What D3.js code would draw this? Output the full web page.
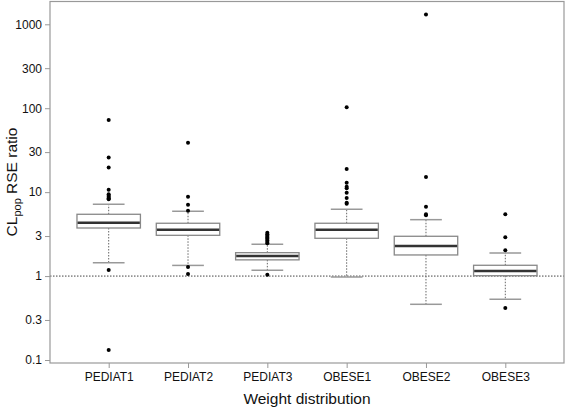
<!DOCTYPE html>
<html><head><meta charset="utf-8">
<script src="https://cdn.jsdelivr.net/npm/d3@7"></script>
<style>body{margin:0;background:#fff}svg{display:block}text{font-family:"Liberation Sans",Arial,sans-serif;fill:#111}</style>
</head><body>
<script>
const categories = ["PEDIAT1","PEDIAT2","PEDIAT3","OBESE1","OBESE2","OBESE3"];
const whiskerLow  = [1.44, 1.34, 1.17, 0.975, 0.461, 0.529];
const q1          = [3.74, 3.06, 1.56, 2.82, 1.785, 1.01];
const medians     = [4.33, 3.57, 1.74, 3.57, 2.28, 1.15];
const q3          = [5.45, 4.26, 1.90, 4.26, 2.98, 1.345];
const whiskerHigh = [7.17, 5.92, 2.39, 6.26, 4.70, 1.885];
const outliers = [
  [72.6, 25.8, 19.6, 10.7, 9.44, 9.08, 8.77, 8.46, 8.23, 1.18, 0.132],
  [38.9, 8.84, 7.10, 6.02, 1.28, 1.06],
  [3.29, 3.15, 3.02, 2.93, 2.85, 2.76, 2.66, 2.55, 2.46, 1.04],
  [102.8, 18.9, 12.98, 11.63, 11.13, 9.86, 8.53, 7.50, 7.29],
  [1305, 15.2, 6.72, 5.45, 5.30],
  [5.45, 2.90, 2.03, 0.417]
];
const yTicks = [0.1, 0.3, 1, 3, 10, 30, 100, 300, 1000];
const refValue = 1;

const W = 567, H = 408;
const L = 50, R = 564, T = 1.5, B = 363;
const svg = d3.select("body").append("svg").attr("width", W).attr("height", H);

const x = d3.scalePoint().domain(categories).range([L, R]).padding(0.74);
const y = d3.scaleLog().domain([0.1, 1000]).range([360, 24.3]);
const step = x.step();
const boxW = step * 0.8, capW = boxW / 2;

// reference line
svg.append("line").attr("x1", L).attr("x2", R).attr("y1", y(refValue)).attr("y2", y(refValue))
  .attr("stroke", "#444").attr("stroke-width", 1).attr("stroke-dasharray", "1.5,1.5");

const data = categories.map((c, i) => ({c, lo: whiskerLow[i], q1: q1[i], med: medians[i], q3: q3[i], hi: whiskerHigh[i], out: outliers[i]}));
const g = svg.append("g").selectAll("g").data(data).join("g");

// whiskers
g.append("line").attr("x1", d => x(d.c)).attr("x2", d => x(d.c)).attr("y1", d => y(d.q3)).attr("y2", d => y(d.hi))
  .attr("stroke", "#666").attr("stroke-dasharray", "1.5,1.5");
g.append("line").attr("x1", d => x(d.c)).attr("x2", d => x(d.c)).attr("y1", d => y(d.q1)).attr("y2", d => y(d.lo))
  .attr("stroke", "#666").attr("stroke-dasharray", "1.5,1.5");
// caps
g.append("line").attr("x1", d => x(d.c) - capW / 2).attr("x2", d => x(d.c) + capW / 2).attr("y1", d => y(d.hi)).attr("y2", d => y(d.hi))
  .attr("stroke", "#999").attr("stroke-width", 1.5);
g.append("line").attr("x1", d => x(d.c) - capW / 2).attr("x2", d => x(d.c) + capW / 2).attr("y1", d => y(d.lo)).attr("y2", d => y(d.lo))
  .attr("stroke", "#999").attr("stroke-width", 1.5);
// box
g.append("rect").attr("x", d => x(d.c) - boxW / 2).attr("width", boxW)
  .attr("y", d => y(d.q3)).attr("height", d => y(d.q1) - y(d.q3))
  .attr("fill", "#fff").attr("stroke", "#888").attr("stroke-width", 1.3);
// median
g.append("line").attr("x1", d => x(d.c) - boxW / 2 + 0.6).attr("x2", d => x(d.c) + boxW / 2 - 0.6).attr("y1", d => y(d.med)).attr("y2", d => y(d.med))
  .attr("stroke", "#333").attr("stroke-width", 2.5);
// outliers
g.selectAll("circle").data(d => d.out.map(v => ({c: d.c, v}))).join("circle")
  .attr("cx", d => x(d.c)).attr("cy", d => y(d.v)).attr("r", 2).attr("fill", "#000");

// frame
svg.append("rect").attr("x", L).attr("y", T).attr("width", R - L).attr("height", B - T)
  .attr("fill", "none").attr("stroke", "#999").attr("stroke-width", 1.2);

// y axis
const yAxis = svg.append("g").attr("transform", `translate(${L},0)`)
  .call(d3.axisLeft(y).tickValues(yTicks).tickFormat(d3.format("~g")).tickSize(5).tickPadding(3));
yAxis.select(".domain").remove();
yAxis.selectAll("line").attr("stroke", "#999");
yAxis.selectAll("text").style("font-size", "12px").attr("fill", "#111");

// x axis
const xAxis = svg.append("g").attr("transform", `translate(0,${B})`)
  .call(d3.axisBottom(x).tickSize(5).tickPadding(4));
xAxis.select(".domain").remove();
xAxis.selectAll("line").attr("stroke", "#999");
xAxis.selectAll("text").style("font-size", "12px").attr("fill", "#111");

// titles
svg.append("text").attr("x", (L + R) / 2).attr("y", 404).attr("text-anchor", "middle")
  .style("font-size", "15.5px").text("Weight distribution");
const yt = svg.append("text").attr("transform", "translate(17,182) rotate(-90)").attr("text-anchor", "middle")
  .style("font-size", "15.5px");
yt.append("tspan").text("CL");
yt.append("tspan").attr("dy", 4).style("font-size", "11px").text("pop");
yt.append("tspan").attr("dy", -4).text(" RSE ratio");
</script>
</body></html>
